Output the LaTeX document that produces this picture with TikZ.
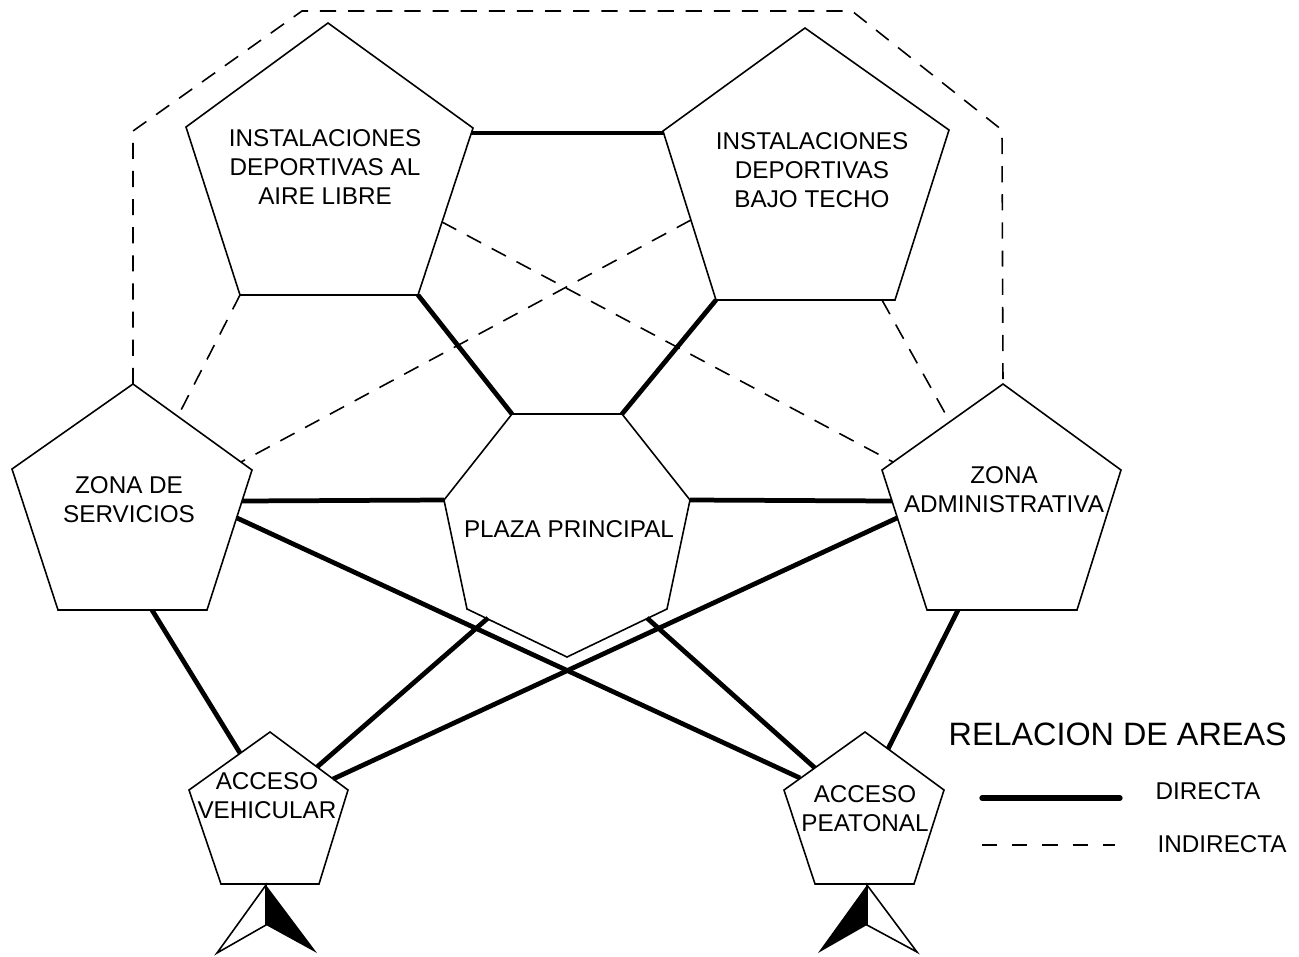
\documentclass[tikz,border=0pt]{standalone}
\usepackage{fontspec}
\setmainfont{Liberation Sans}
\begin{document}
\begin{tikzpicture}[x=0.01cm,y=-0.01cm,
  shapeline/.style={draw=black,line width=0.45pt,line join=miter},
  directa/.style={draw=black,line width=1.35pt},
  indirecta/.style={draw=black,line width=0.45pt,dash pattern=on 4.6pt off 3.4pt},
  lbl/.style={font=\fontsize{6.9}{8.3}\selectfont,align=center,inner sep=0pt,text=black},
  ttl/.style={font=\fontsize{9.2}{11}\selectfont,inner sep=0pt,text=black},
  leg/.style={font=\fontsize{6.9}{8.3}\selectfont,inner sep=0pt,text=black}]
\useasboundingbox (0,0) rectangle (1299,957);
% ---- polygon vertices
\coordinate (a1) at (328,23);  \coordinate (a2) at (473,128); \coordinate (a3) at (418,295);
\coordinate (a4) at (240,295); \coordinate (a5) at (186,127);
\coordinate (b1) at (805,28);  \coordinate (b2) at (949,130); \coordinate (b3) at (895,300);
\coordinate (b4) at (716,300); \coordinate (b5) at (663,131);
\coordinate (s1) at (133,384); \coordinate (s2) at (252,470); \coordinate (s3) at (207,610);
\coordinate (s4) at (58,610);  \coordinate (s5) at (12,469);
\coordinate (z1) at (1003,384); \coordinate (z2) at (1121,470); \coordinate (z3) at (1077,610);
\coordinate (z4) at (927,610);  \coordinate (z5) at (882,470);
\coordinate (p1) at (512,414); \coordinate (p2) at (622,414); \coordinate (p3) at (690,500);
\coordinate (p4) at (667,609); \coordinate (p5) at (567,657); \coordinate (p6) at (467,609);
\coordinate (p7) at (444,500);
\coordinate (v1) at (270,732); \coordinate (v2) at (348,790); \coordinate (v3) at (319,884);
\coordinate (v4) at (221,884); \coordinate (v5) at (189,790);
\coordinate (w1) at (865,732); \coordinate (w2) at (944,790); \coordinate (w3) at (914,884);
\coordinate (w4) at (815,884); \coordinate (w5) at (784,790);
% ---- shapes
\draw[shapeline] (a1)--(a2)--(a3)--(a4)--(a5)--cycle;
\draw[shapeline] (b1)--(b2)--(b3)--(b4)--(b5)--cycle;
\draw[shapeline] (s1)--(s2)--(s3)--(s4)--(s5)--cycle;
\draw[shapeline] (z1)--(z2)--(z3)--(z4)--(z5)--cycle;
\draw[shapeline] (p1)--(p2)--(p3)--(p4)--(p5)--(p6)--(p7)--cycle;
\draw[shapeline] (v1)--(v2)--(v3)--(v4)--(v5)--cycle;
\draw[shapeline] (w1)--(w2)--(w3)--(w4)--(w5)--cycle;
% ---- labels
\node[lbl] (idal) at (325,167) {INSTALACIONES\\DEPORTIVAS AL\\AIRE LIBRE};
\node[lbl] (idbt) at (812,170) {INSTALACIONES\\DEPORTIVAS\\BAJO TECHO};
\node[lbl] (zds) at (129,500) {ZONA DE\\SERVICIOS};
\node[lbl] (za) at (1004,490) {ZONA\\ADMINISTRATIVA};
\node[lbl,anchor=base] (pp) at (569,537) {PLAZA PRINCIPAL};
\node[lbl] (av) at (267,796) {ACCESO\\VEHICULAR};
\node[lbl] (ap) at (865,809) {ACCESO\\PEATONAL};
% ---- connector ends
\coordinate (ab-a) at (471,133); \coordinate (ab-b) at (664,133);
\coordinate (sp-s) at (242,501); \coordinate (zp-z) at (892,501);
\coordinate (sw-s) at (237,518); \coordinate (sw-w) at (800,778);
\coordinate (zv-z) at (897,518); \coordinate (zv-v) at (333,779);
\coordinate (pv-p) at (488,618); \coordinate (pv-v) at (317,767);
\coordinate (pw-p) at (647,618); \coordinate (pw-w) at (815,768);
\coordinate (sv-s) at (152,610); \coordinate (sv-v) at (240,753);
\coordinate (zw-z) at (958,610); \coordinate (zw-w) at (888,749);
\coordinate (as-s) at (178,416);
\coordinate (bz-b) at (882,300); \coordinate (bz-z) at (950,422);
\coordinate (az-a) at (442,222); \coordinate (az-z) at (893,462);
\coordinate (bs-b) at (691,220); \coordinate (bs-s) at (241,462);
\coordinate (o1) at (133,131); \coordinate (o2) at (302,11);
\coordinate (o3) at (852,11);  \coordinate (o4) at (1002,130);
% ---- direct relations
\draw[directa] (ab-a) -- (ab-b);
\draw[directa] (a3) -- (p1);
\draw[directa] (b4) -- (p2);
\draw[directa] (sp-s) -- (p7);
\draw[directa] (p3) -- (zp-z);
\draw[directa] (sw-s) -- (sw-w);
\draw[directa] (zv-z) -- (zv-v);
\draw[directa] (pv-p) -- (pv-v);
\draw[directa] (pw-p) -- (pw-w);
\draw[directa] (sv-s) -- (sv-v);
\draw[directa] (zw-z) -- (zw-w);
% ---- indirect relations
\draw[indirecta] (a4) -- (as-s);
\draw[indirecta] (bz-b) -- (bz-z);
\draw[indirecta] (az-a) -- (az-z);
\draw[indirecta] (bs-b) -- (bs-s);
\draw[indirecta] (s1) -- (o1) -- (o2) -- (o3) -- (o4) -- (z1);
% ---- access arrows
\coordinate (va) at (266,885); \coordinate (vi) at (266,925);
\coordinate (vl) at (217,953); \coordinate (vr) at (317,953);
\draw[shapeline] (va) -- (vl) -- (vi) -- cycle;
\fill[black] (va) -- (vi) -- (vr) -- cycle;
\coordinate (wa) at (867,885); \coordinate (wi) at (867,925);
\coordinate (wl) at (818,953); \coordinate (wr) at (917,952);
\fill[black] (wa) -- (wl) -- (wi) -- cycle;
\draw[shapeline] (wa) -- (wi) -- (wr) -- cycle;
% ---- legend
\node[ttl,anchor=base west] (title) at (948,745) {RELACION DE AREAS};
\coordinate (l1a) at (982,798); \coordinate (l1b) at (1120,798);
\coordinate (l2a) at (982,845); \coordinate (l2b) at (1115,845);
\draw[directa,line width=1.5pt,line cap=round] (l1a) -- (l1b);
\draw[indirecta,dash pattern=on 4.3pt off 4.3pt] (l2a) -- (l2b);
\node[leg,anchor=base west] (dir) at (1155,799) {DIRECTA};
\node[leg,anchor=base west] (ind) at (1157,852) {INDIRECTA};
\end{tikzpicture}
\end{document}
